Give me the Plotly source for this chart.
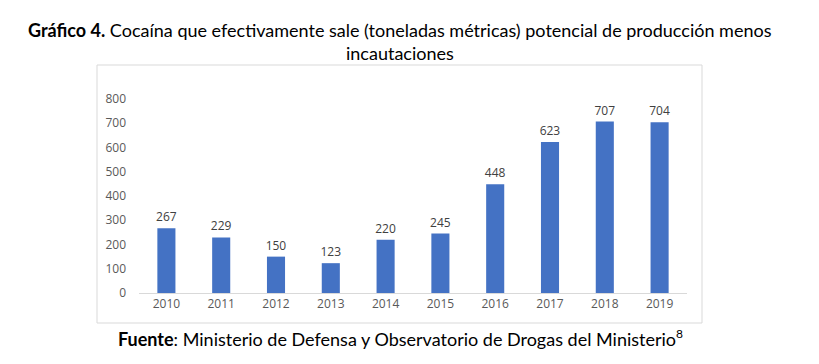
import plotly.graph_objects as go

years = ["2010", "2011", "2012", "2013", "2014", "2015", "2016", "2017", "2018", "2019"]
values = [267, 229, 150, 123, 220, 245, 448, 623, 707, 704]
y_ticks = [0, 100, 200, 300, 400, 500, 600, 700, 800]

W, H = 819, 364
L, R, T, B = 139, 687, 99, 293

fig = go.Figure(go.Bar(
    x=years, y=values, width=0.33,
    marker=dict(color="#4472C4", line=dict(width=0)),
    text=[str(v) for v in values], textposition="outside",
    textfont=dict(family="Open Sans", size=12, color="#404040"),
    cliponaxis=False, constraintext="none",
))

fig.update_layout(
    width=W, height=H,
    margin=dict(l=L, r=W - R, t=T, b=H - B),
    paper_bgcolor="white", plot_bgcolor="white",
    showlegend=False,
    bargap=0.67,
    xaxis=dict(showgrid=False, showline=True, linecolor="#D9D9D9", linewidth=1,
               ticks="", tickfont=dict(family="Open Sans", size=12, color="#595959")),
    yaxis=dict(range=[0, 800], tickvals=y_ticks, showgrid=False, zeroline=False,
               showline=False, ticks="", ticklabelstandoff=12,
               tickfont=dict(family="Open Sans", size=12, color="#595959")),
    shapes=[dict(type="rect", xref="paper", yref="paper",
                 x0=(97 - L) / (R - L), x1=(702 - L) / (R - L),
                 y0=(B - 323) / (B - T), y1=(B - 65) / (B - T),
                 line=dict(color="#D9D9D9", width=1), fillcolor="rgba(0,0,0,0)")],
    annotations=[
        dict(text="<b>Gráfico 4.</b> Cocaína que efectivamente sale (toneladas métricas) potencial de producción menos",
             xref="paper", yref="paper", x=(400 - L) / (R - L), y=(B - 30) / (B - T),
             xanchor="center", yanchor="middle", showarrow=False,
             font=dict(family="Lato", size=18, color="black")),
        dict(text="incautaciones",
             xref="paper", yref="paper", x=(400 - L) / (R - L), y=(B - 53) / (B - T),
             xanchor="center", yanchor="middle", showarrow=False,
             font=dict(family="Lato", size=18, color="black")),
        dict(text="<b>Fuente</b>: Ministerio de Defensa y Observatorio de Drogas del Ministerio<sup><span style='font-size:12px'>8</span></sup>",
             xref="paper", yref="paper", x=(400 - L) / (R - L), y=(B - 338) / (B - T),
             xanchor="center", yanchor="middle", showarrow=False,
             font=dict(family="Lato", size=18, color="black")),
    ],
)

fig.write_html("out.html", config={"displayModeBar": False},
               post_script="document.body.style.margin='0';")
